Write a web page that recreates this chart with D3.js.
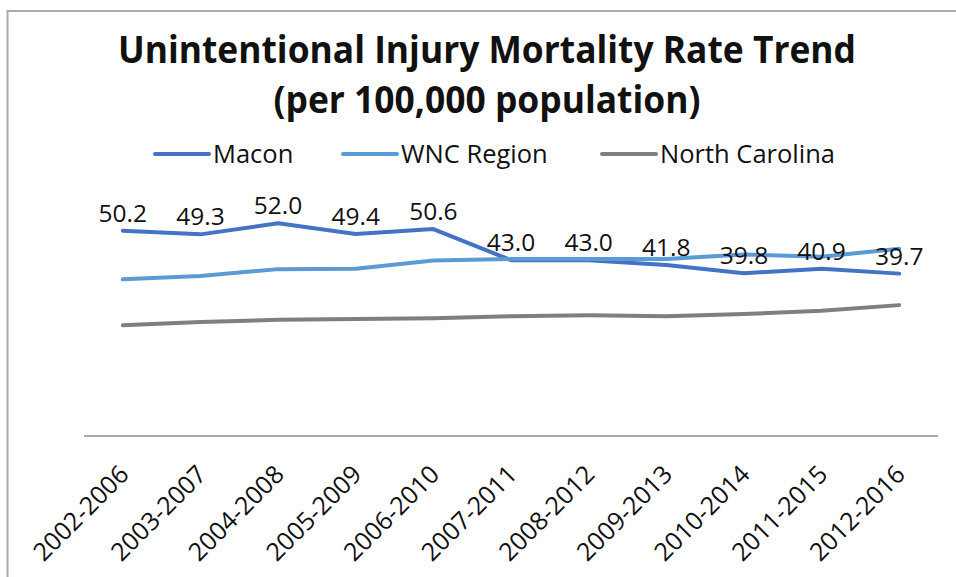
<!DOCTYPE html>
<html>
<head>
<meta charset="utf-8">
<script src="https://cdn.jsdelivr.net/npm/d3@7"></script>
<style>
    body { margin: 0; background: #fff; }
    svg { display: block; }
    text { font-family: 'Open Sans', 'DejaVu Sans', sans-serif; fill: #111; }
</style>
</head>
<body>
<svg id="chart"></svg>
<script>
/*################
Data
################*/
const periods = ['2002-2006', '2003-2007', '2004-2008', '2005-2009', '2006-2010', '2007-2011',
    '2008-2012', '2009-2013', '2010-2014', '2011-2015', '2012-2016'];
const macon = [50.2, 49.3, 52.0, 49.4, 50.6, 43.0, 43.0, 41.8, 39.8, 40.9, 39.7];
const wnc = [38.3, 39.1, 40.8, 40.9, 42.9, 43.3, 43.3, 43.3, 44.4, 43.8, 45.8];
const northCarolina = [27.1, 27.9, 28.4, 28.6, 28.8, 29.3, 29.5, 29.3, 29.8, 30.6, 32.0];
const seriesNames = ['Macon', 'WNC Region', 'North Carolina'];
const titleLines = ['Unintentional Injury Mortality Rate Trend', '(per 100,000 population)'];

/*################
Canvas
################*/
const width = 956, height = 577;
const colors = ['#4472C4', '#5B9BD5', '#7F7F7F'];
const series = [macon, wnc, northCarolina].map((values, i) => ({
    name: seriesNames[i],
    color: colors[i],
    values: values.map((v, j) => ({ period: periods[j], value: v }))
}));

const svg = d3.select('#chart')
    .attr('width', width)
    .attr('height', height);

svg.append('rect')
    .attr('width', width)
    .attr('height', height)
    .attr('fill', '#fff');

// chart area border (cropped on right and bottom)
svg.append('rect')
    .attr('x', 7.5)
    .attr('y', 11)
    .attr('width', 1100)
    .attr('height', 800)
    .attr('fill', 'none')
    .attr('stroke', '#ababab')
    .attr('stroke-width', 2);

const x = d3.scalePoint()
    .domain(periods)
    .range([84, 938])
    .padding(0.5);

const y = d3.scaleLinear()
    .domain([0, 60])
    .range([436, 436 - 60 * 4.09]);

// title
svg.selectAll('.title')
    .data(titleLines)
    .enter()
    .append('text')
    .attr('class', 'title')
    .attr('x', 487)
    .attr('y', (d, i) => 63 + i * 50)
    .attr('text-anchor', 'middle')
    .attr('font-size', 37)
    .attr('font-weight', 700)
    .attr('textLength', (d, i) => i === 0 ? 738 : 427)
    .attr('lengthAdjust', 'spacingAndGlyphs')
    .text(d => d);

// legend
const legendX = [155, 343, 602];
svg.selectAll('.legend')
    .data(series)
    .enter()
    .append('g')
    .attr('class', 'legend')
    .attr('transform', (d, i) => `translate(${legendX[i]}, 154)`)
    .call(g => g.append('line')
        .attr('x1', 0)
        .attr('x2', 54)
        .attr('stroke', d => d.color)
        .attr('stroke-width', 4)
        .attr('stroke-linecap', 'round'))
    .call(g => g.append('text')
        .attr('x', 58)
        .attr('y', 9)
        .attr('font-size', 25.5)
        .text(d => d.name));

// x axis
const xAxis = svg.append('g')
    .attr('transform', 'translate(0, 436)')
    .call(d3.axisBottom(x).tickSize(0).tickPadding(0));
xAxis.select('.domain')
    .attr('d', 'M84,0H938')
    .attr('stroke', '#8c8c8c')
    .attr('stroke-width', 1.5);
xAxis.selectAll('text')
    .attr('font-size', 25)
    .attr('font-family', "'Open Sans', sans-serif")
    .attr('fill', '#111')
    .attr('text-anchor', 'end')
    .attr('dy', 0)
    .attr('transform', 'translate(7, 40) rotate(-45)');

// lines
const line = d3.line()
    .x(d => x(d.period))
    .y(d => y(d.value));

svg.selectAll('.series')
    .data(series)
    .enter()
    .append('path')
    .attr('class', 'series')
    .attr('d', d => line(d.values))
    .attr('fill', 'none')
    .attr('stroke', d => d.color)
    .attr('stroke-width', 4)
    .attr('stroke-linejoin', 'round')
    .attr('stroke-linecap', 'round');

// data labels for Macon
svg.selectAll('.label')
    .data(series[0].values)
    .enter()
    .append('text')
    .attr('class', 'label')
    .attr('x', d => x(d.period))
    .attr('y', d => y(d.value) - 9)
    .attr('text-anchor', 'middle')
    .attr('font-size', 24.5)
    .text(d => d.value.toFixed(1));
</script>
</body>
</html>
